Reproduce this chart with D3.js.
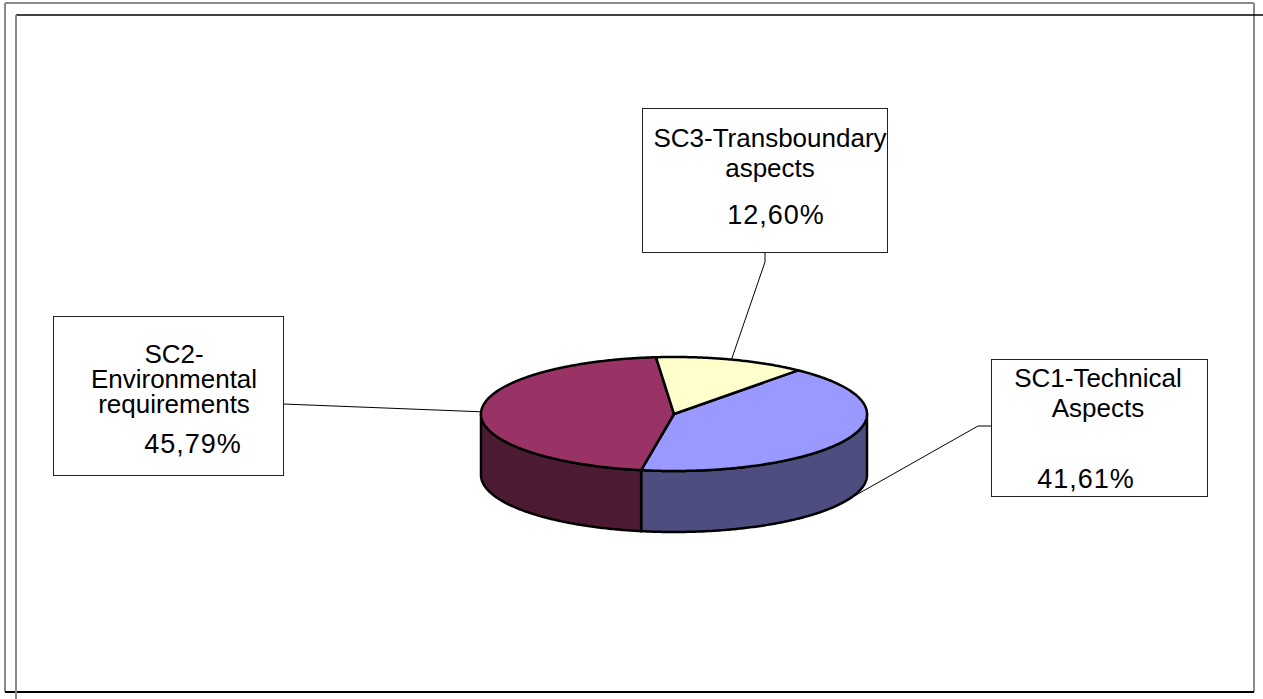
<!DOCTYPE html>
<html>
<head>
<meta charset="utf-8">
<script src="https://cdn.jsdelivr.net/npm/d3@7"></script>
<style>
  html, body { margin: 0; padding: 0; background: #fff; }
  svg { display: block; }
  text { font-family: "Liberation Sans", Arial, sans-serif; font-size: 26px; fill: #000; }
</style>
</head>
<body>
<svg id="chart" width="1263" height="699"></svg>
<script>
// Share of each sub-criterion (percent)
const categories = ["SC1-Technical Aspects", "SC2-Environmental requirements", "SC3-Transboundary aspects"];
const labelLines = [["SC1-Technical", "Aspects"], ["SC2-", "Environmental", "requirements"], ["SC3-Transboundary", "aspects"]];
const values = [41.61, 45.79, 12.60];
const topColors = ["#9999FF", "#993366", "#FFFFCC"];
const sideColors = ["#4D4D80", "#4D1A33", "#80806A"];

// Label box layout (hand placed, as in the original workbook)
const boxes = [
  { x: 991, y: 359, w: 216, h: 137, tx: 1098, px: 1086, lineY: [387, 417], pctY: 488, elbow: [[991, 426], [978, 426]] },
  { x: 53,  y: 316, w: 230, h: 159, tx: 174,  px: 193,  lineY: [363, 388, 413], pctY: 453, elbow: [[283, 404]] },
  { x: 642, y: 108, w: 245, h: 144, tx: 770,  px: 776,  lineY: [147, 177], pctY: 224, elbow: [[765, 252], [765, 262]] }
];

const svg = d3.select("#chart");

// Frames
svg.append("line").attr("x1", 5).attr("y1", 3).attr("x2", 1254).attr("y2", 3).attr("stroke", "#8a8a8a").attr("stroke-width", 2);
svg.append("line").attr("x1", 5).attr("y1", 3).attr("x2", 5).attr("y2", 692).attr("stroke", "#8a8a8a").attr("stroke-width", 2);
svg.append("line").attr("x1", 1254).attr("y1", 3).attr("x2", 1254).attr("y2", 692).attr("stroke", "#8a8a8a").attr("stroke-width", 2);
svg.append("line").attr("x1", 5).attr("y1", 692).attr("x2", 1254).attr("y2", 692).attr("stroke", "#000").attr("stroke-width", 2);
svg.append("line").attr("x1", 16).attr("y1", 15).attr("x2", 1263).attr("y2", 15).attr("stroke", "#000").attr("stroke-width", 1.5);
svg.append("line").attr("x1", 16).attr("y1", 15).attr("x2", 16).attr("y2", 699).attr("stroke", "#8a8a8a").attr("stroke-width", 2);

// 3D pie geometry (elliptical projection)
const cx = 674, cy = 414, rx = 193, ry = 57, depth = 61;
const startAngle = 40 * Math.PI / 180;
const pie = d3.pie().sort(null).value(d => d)
  .startAngle(startAngle).endAngle(startAngle + 2 * Math.PI);
const arcs = pie(values);

const pt = (t, dy = 0) => [cx + rx * Math.sin(t), cy - ry * Math.cos(t) + dy];
function arcPoints(a0, a1, dy = 0) {
  const n = Math.max(2, Math.ceil(Math.abs(a1 - a0) / 0.01));
  return d3.range(n + 1).map(i => pt(a0 + (a1 - a0) * i / n, dy));
}
const line = d3.line();

// Visible front wall: angles within [PI/2, 3PI/2] (mod 2PI)
function frontSegments(a0, a1) {
  const segs = [];
  for (let k = -1; k <= 2; k++) {
    const lo = Math.PI / 2 + k * 2 * Math.PI, hi = 3 * Math.PI / 2 + k * 2 * Math.PI;
    const s = Math.max(a0, lo), e = Math.min(a1, hi);
    if (e > s) segs.push([s, e]);
  }
  return segs;
}

const g = svg.append("g");

// Side walls
arcs.forEach((a, i) => {
  frontSegments(a.startAngle, a.endAngle).forEach(([s, e]) => {
    const pts = arcPoints(s, e).concat(arcPoints(e, s, depth));
    g.append("path")
      .attr("d", line(pts) + "Z")
      .attr("fill", sideColors[i])
      .attr("stroke", "#000").attr("stroke-width", 2.5).attr("stroke-linejoin", "round");
  });
});

// Top faces
arcs.forEach((a, i) => {
  const pts = [[cx, cy]].concat(arcPoints(a.startAngle, a.endAngle));
  g.append("path")
    .attr("d", line(pts) + "Z")
    .attr("fill", topColors[i])
    .attr("stroke", "#000").attr("stroke-width", 2.5).attr("stroke-linejoin", "round");
});

// Leader lines from labels to the slice middle
const norm = t => ((t % (2 * Math.PI)) + 2 * Math.PI) % (2 * Math.PI);
arcs.forEach((a, i) => {
  const mid = (a.startAngle + a.endAngle) / 2;
  const m = norm(mid);
  const anchor = (m > Math.PI / 2 && m < 3 * Math.PI / 2) ? pt(mid, depth) : pt(mid);
  const pts = boxes[i].elbow.concat([anchor]);
  svg.append("path").attr("d", line(pts)).attr("fill", "none").attr("stroke", "#000").attr("stroke-width", 1);
});

// Label boxes
const locale = d3.formatLocale({ decimal: ",", thousands: ".", grouping: [3], currency: ["", "€"] });
const fmt = locale.format(".2f");
boxes.forEach((b, i) => {
  const lg = svg.append("g");
  lg.append("rect").attr("x", b.x + 0.5).attr("y", b.y + 0.5).attr("width", b.w).attr("height", b.h)
    .attr("fill", "#fff").attr("stroke", "#222").attr("stroke-width", 1);
  labelLines[i].forEach((t, j) => {
    lg.append("text").attr("x", b.tx).attr("y", b.lineY[j]).attr("text-anchor", "middle").text(t);
  });
  lg.append("text").attr("x", b.px).attr("y", b.pctY).attr("text-anchor", "middle")
    .style("font-size", "27px").attr("letter-spacing", "1px").text(fmt(values[i]) + "%");
});
</script>
</body>
</html>
